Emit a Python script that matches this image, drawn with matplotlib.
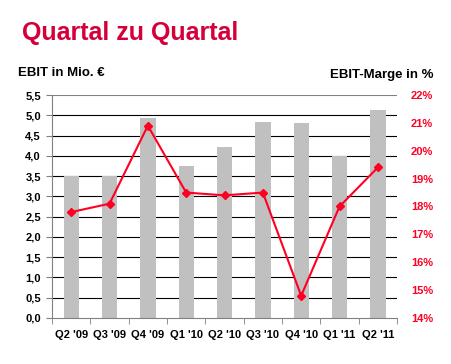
import matplotlib
matplotlib.use('Agg')
import matplotlib.pyplot as plt
import numpy as np

plt.rcParams['font.family'] = ['Liberation Sans', 'DejaVu Sans']

quarters = ["Q2 '09", "Q3 '09", "Q4 '09", "Q1 '10", "Q2 '10",
            "Q3 '10", "Q4 '10", "Q1 '11", "Q2 '11"]
ebit = [3.5, 3.5, 4.94, 3.75, 4.22, 4.84, 4.82, 4.0, 5.13]
marge = [17.8, 18.1, 20.9, 18.5, 18.4, 18.5, 14.8, 18.0, 19.4]

left_ticks = [0.0, 0.5, 1.0, 1.5, 2.0, 2.5, 3.0, 3.5, 4.0, 4.5, 5.0, 5.5]
right_ticks = [14, 15, 16, 17, 18, 19, 20, 21, 22]

red = '#FF0022'

fig = plt.figure(figsize=(4.51, 3.64), dpi=100)
ax = fig.add_axes([0.1153, 0.1264, 0.765, 0.6126])

x = np.arange(len(quarters))
ax.bar(x, ebit, width=0.4, color='#C0C0C0', zorder=2)
ax.set_xlim(-0.5, len(quarters) - 0.5)
ax.set_ylim(0, 5.5)

# gridlines
for v in left_ticks[1:-1]:
    ax.axhline(v, color='black', lw=0.8, zorder=1)
ax.axhline(5.5, color='#808080', lw=1.5, zorder=1)

ax.set_yticks(left_ticks)
ax.set_yticklabels([('%.1f' % v).replace('.', ',') for v in left_ticks],
                   fontsize=8, fontweight='bold')
ax.set_xticks(x)
ax.set_xticklabels(quarters, fontsize=8, fontweight='bold')
ax.tick_params(axis='x', length=0, pad=9)
ax.set_xticks(np.arange(-0.5, len(quarters)), minor=True)
ax.tick_params(axis='x', which='minor', length=4, color='#808080', direction='out')
ax.tick_params(axis='y', length=4, color='#808080', pad=4)

for s in ['top', 'right']:
    ax.spines[s].set_visible(False)
ax.spines['left'].set_color('#808080')
ax.spines['bottom'].set_color('#808080')

ax2 = ax.twinx()
ax2.plot(x, marge, color=red, lw=1.5, marker='D', ms=4, zorder=3)
ax2.set_ylim(14, 22)
ax2.set_yticks(right_ticks)
ax2.set_yticklabels(['%d%%' % v for v in right_ticks],
                    fontsize=8, fontweight='bold', color=red)
ax2.tick_params(axis='y', length=0, pad=10)
for s in ['top', 'right', 'left', 'bottom']:
    ax2.spines[s].set_visible(False)

fig.text(0.049, 0.91, 'Quartal zu Quartal', fontsize=18, fontweight='bold',
         color='#D5003A', va='center', ha='left')
fig.text(0.04, 0.8, 'EBIT in Mio. €', fontsize=9.5, fontweight='bold',
         va='center', ha='left')
fig.text(0.962, 0.793, 'EBIT-Marge in %', fontsize=9.5, fontweight='bold',
         va='center', ha='right')

fig.savefig('out.png', dpi=100)
